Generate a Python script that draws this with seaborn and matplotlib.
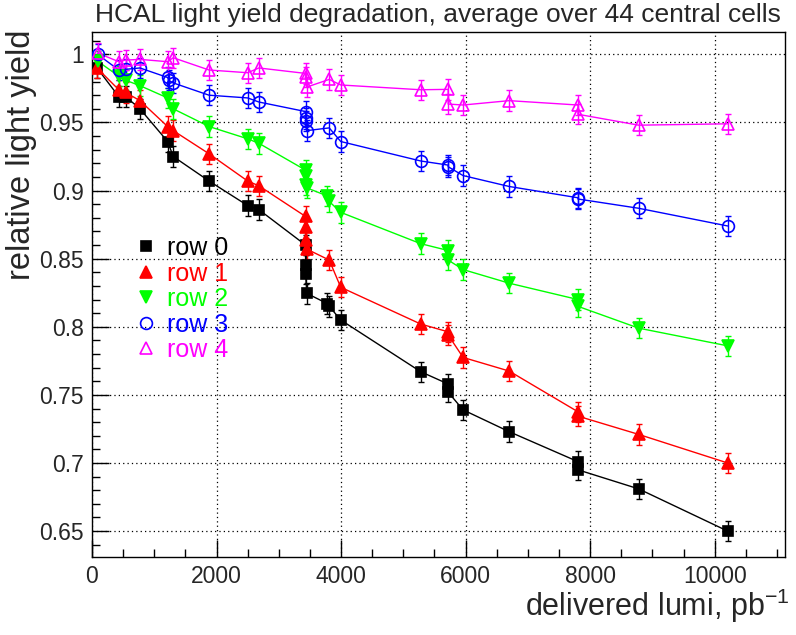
import numpy as np
import matplotlib
matplotlib.use("Agg")
import matplotlib.pyplot as plt
import seaborn as sns
from matplotlib.lines import Line2D
from matplotlib.ticker import MultipleLocator, FuncFormatter

# ---------------- data ----------------
labels = ["row 0", "row 1", "row 2", "row 3", "row 4"]

x0 = [80, 430, 540, 770, 1215, 1305, 1880, 2500, 2680, 3430, 3430, 3430, 3450, 3780, 3810, 3995,
      5280, 5720, 5720, 5960, 6700, 7805, 7805, 8780, 10210]
y0 = [0.990, 0.969, 0.969, 0.960, 0.936, 0.925, 0.907, 0.889, 0.886, 0.860, 0.845, 0.839, 0.8245,
      0.817, 0.815, 0.805, 0.767, 0.758, 0.752, 0.739, 0.723, 0.701, 0.695, 0.681, 0.650]

x1 = [80, 430, 540, 770, 1215, 1305, 1880, 2500, 2680, 3430, 3430, 3430, 3450, 3810, 3995,
      5280, 5720, 5720, 5960, 6700, 7805, 7805, 8780, 10210]
y1 = [0.990, 0.974, 0.972, 0.966, 0.947, 0.944, 0.927, 0.907, 0.9035, 0.881, 0.873, 0.864, 0.857,
      0.849, 0.829, 0.802, 0.7963, 0.794, 0.7775, 0.7675, 0.7376, 0.7344, 0.721, 0.700]

x2 = [90, 430, 540, 770, 1215, 1305, 1880, 2500, 2680, 3430, 3430, 3430, 3450, 3780, 3810, 3995,
      5280, 5720, 5720, 5960, 6700, 7805, 7805, 8780, 10210]
y2 = [0.995, 0.984, 0.981, 0.977, 0.968, 0.960, 0.947, 0.938, 0.9347, 0.915, 0.911, 0.904, 0.902,
      0.896, 0.892, 0.884, 0.861, 0.856, 0.849, 0.842, 0.832, 0.820, 0.815, 0.799, 0.786]

x3 = [90, 430, 540, 770, 1215, 1230, 1305, 1880, 2500, 2680, 3430, 3430, 3430, 3450, 3810, 3995,
      5280, 5720, 5720, 5960, 6700, 7805, 7805, 8780, 10210]
y3 = [1.000, 0.9885, 0.989, 0.990, 0.983, 0.981, 0.979, 0.970, 0.968, 0.965, 0.958, 0.953, 0.951,
      0.944, 0.946, 0.936, 0.9217, 0.9187, 0.9175, 0.911, 0.903, 0.8947, 0.8938, 0.887, 0.874]

x4 = [90, 430, 540, 770, 1215, 1305, 1880, 2500, 2680, 3430, 3430, 3450, 3810, 3995,
      5280, 5720, 5720, 5960, 6700, 7805, 7805, 8780, 10210]
y4 = [1.001, 0.9946, 0.9958, 0.9963, 0.9946, 0.9975, 0.9885, 0.9865, 0.990, 0.986, 0.9835, 0.976,
      0.9816, 0.9775, 0.974, 0.9743, 0.9635, 0.9628, 0.966, 0.9628, 0.956, 0.948, 0.949]

err = 0.0075

xs = [x0, x1, x2, x3, x4]
ys = [y0, y1, y2, y3, y4]

colors = ["#000000", "#ff0000", "#00ff00", "#0000ff", "#ff00ff"]
markers = ["s", "^", "v", "o", "^"]
filled = [True, True, True, False, False]
msizes = [7.5, 8.5, 8.5, 8.5, 9]

# ---------------- style ----------------
sns.set_style("white")
plt.rcParams["font.family"] = ["Liberation Sans", "DejaVu Sans"]
plt.rcParams["mathtext.default"] = "regular"

fig = plt.figure(figsize=(7.96, 6.35), dpi=100)
ax = fig.add_axes([92 / 796, 1 - 557 / 635, (785 - 92) / 796, (557 - 32) / 635])

for i in range(5):
    ax.errorbar(xs[i], ys[i], yerr=err, fmt="none", ecolor=colors[i], elinewidth=1.0,
                capsize=2, capthick=1.0, zorder=2)
    sns.lineplot(x=xs[i], y=ys[i], ax=ax, color=colors[i], lw=1.0, sort=False,
                 estimator=None, zorder=3)
    ax.plot(xs[i], ys[i], ls="none", marker=markers[i], ms=msizes[i],
            mfc=colors[i] if filled[i] else "none", mec=colors[i], mew=1.2, zorder=4)

ax.set_xlim(0, 11130)
ax.set_ylim(0.631, 1.0164)

ax.xaxis.set_major_locator(MultipleLocator(2000))
ax.xaxis.set_minor_locator(MultipleLocator(500))
ax.yaxis.set_major_locator(MultipleLocator(0.05))
ax.yaxis.set_minor_locator(MultipleLocator(0.01))
ax.yaxis.set_major_formatter(FuncFormatter(lambda v, p: ("%g" % round(v, 2))))
ax.xaxis.set_major_formatter(FuncFormatter(lambda v, p: ("%d" % round(v))))

ax.tick_params(which="major", direction="in", length=12, width=1, labelsize=16.5,
               bottom=True, left=True, top=False, right=False, pad=6, color="black")
ax.tick_params(which="minor", direction="in", length=6, width=1,
               bottom=True, left=True, top=False, right=False, color="black")
ax.grid(True, which="major", ls=(0, (1, 2.5)), color="black", lw=0.9)
for s in ax.spines.values():
    s.set_color("black")
    s.set_linewidth(1.0)
ax.set_xlabel("")
ax.set_ylabel("")

# legend
handles = [Line2D([], [], ls="none", marker=markers[i], ms=msizes[i],
                  mfc=colors[i] if filled[i] else "none", mec=colors[i], mew=1.2)
           for i in range(5)]
leg = ax.legend(handles, labels, loc="upper left", bbox_to_anchor=(136 / 796, 1 - 236 / 635),
                bbox_transform=fig.transFigure, frameon=False, fontsize=18,
                handlelength=0.8, handletextpad=0.45, labelspacing=0.06, borderpad=0,
                borderaxespad=0)
for t, c in zip(leg.get_texts(), colors):
    t.set_color(c)

fig.text(95 / 796, 1 - 15 / 635,
         "HCAL light yield degradation, average over 44 central cells",
         fontsize=19, ha="left", va="center")
fig.text(790 / 796, 1 - 606 / 635, "delivered lumi, pb$^{-1}$", fontsize=22,
         ha="right", va="center")
fig.text(22 / 796, 1 - 30 / 635, "relative light yield", fontsize=23.5, rotation=90,
         ha="center", va="top")

fig.savefig("out.png", dpi=100)
